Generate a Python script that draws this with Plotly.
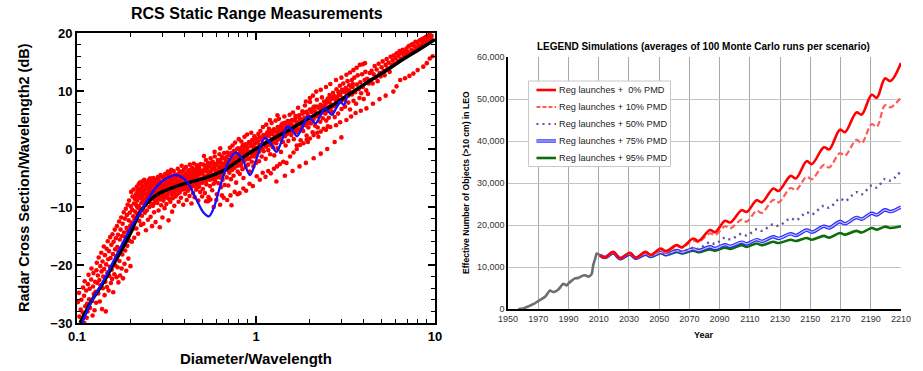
import plotly.graph_objects as go

W, H = 923, 371

# ---------------- Left chart data ----------------
black_x = [0.104, 0.12, 0.14, 0.16, 0.18, 0.20, 0.225, 0.256, 0.29, 0.345, 0.42, 0.53, 0.67,
           0.814, 1.0, 1.36, 1.58, 2.0, 2.69, 3.57, 4.5, 5.5, 6.5, 8.0, 10.0]
black_y = [-30.0, -26.3, -23.1, -19.8, -17.1, -14.4, -10.9, -8.8, -7.6, -6.6, -5.8, -4.9, -3.6,
           -1.8, 0.0, 2.4, 3.5, 5.4, 7.6, 10.1, 12.1, 13.8, 15.3, 17.0, 18.9]

blue_x = [0.107, 0.12, 0.14, 0.16, 0.18, 0.2, 0.225, 0.251, 0.28, 0.31, 0.36, 0.41, 0.466, 0.51,
          0.546, 0.58, 0.63, 0.70, 0.77, 0.84, 0.926, 1.0, 1.12, 1.22, 1.30, 1.40, 1.50, 1.60,
          1.69, 1.82, 1.95, 2.05, 2.15, 2.28, 2.42, 2.55, 2.66, 2.8, 2.96, 3.09, 3.24]
blue_y = [-30.0, -26.4, -22.8, -19.3, -16.2, -13.5, -11.0, -8.5, -6.4, -5.2, -4.5, -5.6, -8.8, -11.0,
          -11.6, -10.2, -6.5, -2.3, -0.6, -1.8, -4.5, -2.0, 1.9, 0.8, -0.5, 1.6, 3.9, 3.2,
          2.2, 3.8, 5.6, 5.0, 4.4, 5.6, 7.0, 6.4, 5.9, 7.0, 8.2, 7.6, 9.3]

rayleigh_pts = [
    (0.1012, -26.4), (0.1031, -28.9), (0.1027, -24.8), (0.1049, -27.7), (0.1063, -29.6), (0.1058, -26.0),
    (0.1081, -23.9), (0.1077, -28.2), (0.1095, -25.3), (0.1112, -27.1), (0.1104, -22.8), (0.1126, -24.4),
    (0.1139, -26.7), (0.1133, -29.1), (0.1151, -23.3), (0.1168, -25.9), (0.1160, -21.7), (0.1182, -27.4),
    (0.1177, -24.1), (0.1199, -22.5), (0.1213, -26.2), (0.1205, -20.6), (0.1228, -23.7), (0.1241, -25.0),
    (0.1236, -21.4), (0.1253, -27.8), (0.1262, -22.9), (0.1270, -24.6), (0.1284, -20.9), (0.1279, -26.5),
    (0.1296, -23.1), (0.1290, -19.6), (0.1099, -30.0), (0.1145, -28.0), (0.1222, -28.7),
    (0.1308, -21.8), (0.1315, -24.9), (0.1322, -18.7), (0.1334, -22.6), (0.1341, -26.3), (0.1350, -20.2),
    (0.1357, -23.5), (0.1366, -17.9), (0.1371, -21.1), (0.1380, -27.6), (0.1389, -19.4), (0.1395, -24.0),
    (0.1402, -22.0), (0.1411, -16.8), (0.1418, -20.7), (0.1426, -25.2), (0.1433, -18.3), (0.1440, -22.9),
    (0.1449, -28.0), (0.1455, -19.9), (0.1463, -17.2), (0.1470, -23.8), (0.1478, -21.3), (0.1486, -15.9),
    (0.1493, -19.0), (0.1501, -24.4), (0.1509, -17.6), (0.1516, -21.9), (0.1525, -20.3), (0.1532, -15.2),
    (0.1540, -18.8), (0.1547, -23.1), (0.1556, -16.5), (0.1563, -20.8), (0.1571, -22.4), (0.1578, -14.7),
    (0.1586, -18.1), (0.1594, -24.7), (0.1601, -16.0), (0.1609, -19.6), (0.1617, -21.6), (0.1625, -13.9),
    (0.1633, -17.3), (0.1641, -20.1), (0.1648, -15.4),
    (0.1656, -18.5), (0.1663, -22.1), (0.1671, -13.3), (0.1679, -16.9), (0.1686, -20.4), (0.1694, -14.8),
    (0.1703, -23.0), (0.1710, -17.7), (0.1718, -12.5), (0.1727, -19.3), (0.1734, -15.6), (0.1742, -21.8),
    (0.1751, -13.9), (0.1759, -17.1), (0.1766, -11.8), (0.1775, -20.6), (0.1783, -15.0), (0.1792, -18.2),
    (0.1799, -12.9), (0.1808, -22.3), (0.1816, -16.3), (0.1825, -10.9), (0.1833, -14.4), (0.1842, -19.8),
    (0.1850, -12.0), (0.1858, -17.5), (0.1867, -15.2), (0.1875, -10.3), (0.1884, -21.0), (0.1893, -13.6),
    (0.1901, -11.4), (0.1909, -16.7), (0.1918, -9.6), (0.1927, -14.1), (0.1936, -18.9), (0.1945, -12.3),
    (0.1953, -8.9), (0.1962, -15.8), (0.1971, -11.0), (0.1980, -13.3), (0.1989, -20.2), (0.1998, -9.9),
    (0.2007, -7.4), (0.2016, -12.7), (0.2025, -16.0), (0.2034, -10.5), (0.2043, -8.2), (0.2052, -13.8),
    (0.2061, -11.6), (0.2070, -7.0), (0.2079, -9.4), (0.2088, -15.3), (0.2097, -12.1), (0.2106, -8.6),
    (0.2115, -10.8),
]

resonance_pts = [
    (0.2124, -11.9), (0.2131, -7.8), (0.2140, -9.6), (0.2148, -13.7), (0.2157, -6.5), (0.2163, -8.9),
    (0.2172, -11.2), (0.2180, -7.3), (0.2187, -10.1), (0.2196, -14.6), (0.2204, -8.2), (0.2211, -6.1),
    (0.2220, -9.9), (0.2228, -12.4), (0.2237, -7.6), (0.2244, -5.8), (0.2253, -10.7), (0.2261, -8.5),
    (0.2270, -6.9), (0.2278, -13.1), (0.2287, -9.3), (0.2295, -7.1), (0.2304, -11.5), (0.2313, -5.6),
    (0.2321, -8.0), (0.2330, -10.3), (0.2339, -6.6), (0.2347, -12.9), (0.2356, -9.0), (0.2365, -7.4),
    (0.2374, -5.3), (0.2383, -8.7), (0.2392, -11.0), (0.2401, -6.3), (0.2410, -9.7), (0.2419, -7.8),
    (0.2428, -14.0), (0.2437, -5.9), (0.2446, -8.3), (0.2455, -10.6), (0.2464, -7.0), (0.2473, -6.0),
    (0.2482, -9.1), (0.2492, -12.2), (0.2501, -7.7), (0.2510, -5.4), (0.2520, -8.8), (0.2529, -6.7),
    (0.2539, -10.0), (0.2548, -7.3), (0.2558, -5.1), (0.2567, -8.4), (0.2577, -11.7), (0.2587, -6.4),
    (0.2596, -9.4), (0.2606, -7.9), (0.2616, -5.7), (0.2626, -13.3), (0.2636, -8.1), (0.2646, -6.2),
    (0.2656, -9.8), (0.2666, -7.2), (0.2676, -5.0), (0.2686, -8.6), (0.2696, -10.9), (0.2706, -6.8),
    (0.2716, -7.6), (0.2727, -9.2), (0.2737, -5.5), (0.2747, -12.6), (0.2758, -7.0), (0.2768, -8.9),
    (0.2779, -6.1),
    (0.2791, -7.5), (0.2802, -5.2), (0.2812, -9.3), (0.2823, -6.6), (0.2834, -4.8), (0.2845, -8.1),
    (0.2856, -10.6), (0.2867, -6.0), (0.2878, -7.8), (0.2889, -5.5), (0.2900, -13.5), (0.2911, -8.7),
    (0.2922, -6.9), (0.2934, -4.5), (0.2945, -7.3), (0.2956, -9.7), (0.2968, -5.9), (0.2979, -8.4),
    (0.2991, -6.4), (0.3002, -11.8), (0.3014, -7.1), (0.3026, -4.9), (0.3037, -8.9), (0.3049, -6.2),
    (0.3061, -5.3), (0.3073, -7.7), (0.3085, -10.2), (0.3097, -6.7), (0.3109, -4.3), (0.3121, -8.3),
    (0.3133, -5.8), (0.3145, -7.0), (0.3157, -9.5), (0.3170, -4.7), (0.3182, -6.5), (0.3194, -8.0),
    (0.3207, -5.6), (0.3219, -3.9), (0.3232, -7.4), (0.3245, -12.3), (0.3257, -6.1), (0.3270, -8.6),
    (0.3283, -5.0), (0.3296, -6.8), (0.3309, -4.1), (0.3322, -9.1), (0.3335, -7.2), (0.3348, -5.4),
    (0.3361, -3.6), (0.3374, -7.9), (0.3388, -6.3), (0.3401, -10.8), (0.3414, -4.6), (0.3428, -8.5),
    (0.3441, -5.7), (0.3455, -6.9), (0.3469, -3.8), (0.3482, -7.6), (0.3496, -9.8), (0.3510, -5.2),
    (0.3524, -6.6), (0.3538, -4.4), (0.3552, -8.2), (0.3566, -5.9), (0.3580, -7.1),
    (0.3603, -4.9), (0.3625, -7.8), (0.3641, -5.6), (0.3659, -3.4), (0.3678, -6.7), (0.3697, -9.1),
    (0.3714, -4.2), (0.3733, -6.0), (0.3751, -7.5), (0.3770, -3.9), (0.3788, -5.3), (0.3807, -8.4),
    (0.3826, -6.4), (0.3845, -2.9), (0.3864, -5.0), (0.3883, -7.0), (0.3903, -4.6), (0.3922, -9.6),
    (0.3942, -5.8), (0.3962, -3.5), (0.3981, -6.9), (0.4001, -4.8), (0.4021, -7.7), (0.4042, -5.5),
    (0.4062, -3.1), (0.4082, -6.2), (0.4103, -8.8), (0.4124, -4.4), (0.4144, -5.9), (0.4165, -7.2),
    (0.4186, -3.7), (0.4208, -6.5), (0.4229, -4.9), (0.4250, -8.1), (0.4272, -2.7), (0.4294, -5.4),
    (0.4316, -6.8), (0.4338, -4.1), (0.4360, -9.4), (0.4382, -5.7), (0.4404, -3.3), (0.4427, -6.1),
    (0.4449, -7.6), (0.4472, -4.5), (0.4495, -2.5), (0.4518, -5.2), (0.4541, -8.3), (0.4564, -6.3),
    (0.4588, -3.8), (0.4611, -4.7), (0.4635, -7.0), (0.4659, -5.5), (0.4683, -2.8), (0.4707, -6.6),
    (0.4731, -4.0), (0.4756, -8.9), (0.4780, -5.1), (0.4805, -3.2), (0.4830, -6.0), (0.4855, -4.3),
    (0.4880, -7.4), (0.4905, -2.6), (0.4931, -5.3), (0.4956, -3.9),
    (0.5012, -4.2), (0.5046, -6.9), (0.5079, -2.7), (0.5113, -5.4), (0.5147, -3.5), (0.5182, -7.6),
    (0.5216, -4.8), (0.5251, -1.9), (0.5286, -6.1), (0.5322, -3.9), (0.5357, -5.0), (0.5393, -2.4),
    (0.5429, -8.3), (0.5466, -4.5), (0.5502, -3.0), (0.5539, -6.4), (0.5577, -1.6), (0.5614, -5.2),
    (0.5652, -3.6), (0.5690, -7.1), (0.5728, -2.2), (0.5766, -4.7), (0.5805, -6.0), (0.5844, -3.3),
    (0.5883, -1.3), (0.5923, -5.6), (0.5963, -4.0), (0.6003, -2.8), (0.6043, -7.8), (0.6084, -4.4),
    (0.6125, -1.9), (0.6166, -5.9), (0.6207, -3.1), (0.6249, -0.9), (0.6291, -4.9), (0.6333, -2.5),
    (0.6376, -6.6), (0.6419, -3.7), (0.6462, -1.4), (0.6505, -5.3), (0.6549, -2.9), (0.6593, -4.2),
    (0.6637, -0.7), (0.6682, -6.2), (0.6727, -3.4), (0.6772, -1.8), (0.5260, -9.0), (0.5560, -8.7),
    (0.6450, -8.0), (0.5120, -1.2), (0.5870, -0.5), (0.6310, 0.1),
]

core_pts = [
    (0.2135, -8.0), (0.2168, -9.9), (0.2192, -6.9), (0.2233, -7.6), (0.2258, -10.4), (0.2291, -6.2),
    (0.2317, -8.6), (0.2352, -7.1), (0.2378, -5.6), (0.2406, -9.2), (0.2441, -6.5), (0.2468, -7.9),
    (0.2497, -5.9), (0.2533, -8.8), (0.2562, -6.8), (0.2591, -5.1), (0.2631, -7.4), (0.2661, -9.5),
    (0.2692, -6.1), (0.2733, -5.7), (0.2764, -8.3), (0.2796, -6.9), (0.2839, -5.0), (0.2872, -7.6),
    (0.2905, -6.3), (0.2949, -8.1), (0.2984, -4.8), (0.3019, -6.7), (0.3066, -7.9), (0.3102, -5.4),
    (0.3139, -6.1), (0.3187, -8.4), (0.3226, -4.6), (0.3264, -7.0), (0.3315, -5.9), (0.3354, -6.8),
    (0.3394, -4.9), (0.3447, -7.6), (0.3488, -5.6), (0.3530, -6.4), (0.3585, -4.7),
    (0.3622, -6.1), (0.3668, -4.4), (0.3705, -5.5), (0.3749, -7.0), (0.3797, -4.8), (0.3836, -5.9),
    (0.3884, -3.9), (0.3926, -6.6), (0.3967, -4.9), (0.4015, -5.7), (0.4066, -4.2), (0.4109, -6.9),
    (0.4153, -5.1), (0.4199, -4.5), (0.4248, -6.1), (0.4293, -3.6), (0.4341, -5.4), (0.4392, -4.8),
    (0.4437, -6.4), (0.4487, -3.9), (0.4538, -5.8), (0.4589, -4.5), (0.4641, -3.3), (0.4693, -5.9),
    (0.4746, -4.4), (0.4799, -6.5), (0.4853, -3.6), (0.4908, -5.1), (0.4963, -4.1), (0.5029, -5.8),
    (0.5087, -3.8), (0.5146, -4.7), (0.5205, -2.9), (0.5265, -5.5), (0.5326, -3.4), (0.5388, -4.6),
    (0.5450, -2.8), (0.5513, -5.3), (0.5576, -3.9), (0.5641, -2.4), (0.5706, -4.5), (0.5772, -3.1),
    (0.5839, -5.2), (0.5906, -2.6), (0.5974, -3.8), (0.6043, -4.9), (0.6113, -2.3), (0.6184, -3.5),
    (0.6255, -4.6), (0.6328, -1.9), (0.6401, -3.3), (0.6475, -2.5), (0.6550, -4.3), (0.6626, -1.6),
    (0.6702, -3.0), (0.6780, -2.2),
    (0.6858, -1.4), (0.6938, -3.6), (0.7018, -2.3), (0.7099, -1.0), (0.7181, -3.1), (0.7264, -0.7),
    (0.7348, -2.5), (0.7433, -1.6), (0.7519, -3.3), (0.7606, -0.4), (0.7694, -2.2), (0.7783, -1.1),
    (0.7873, -2.9), (0.7964, 0.1), (0.8056, -1.5), (0.8149, -0.6), (0.8243, -2.4), (0.8339, 0.3),
    (0.8435, -1.2), (0.8533, -0.2), (0.8631, -2.0), (0.8731, 0.8), (0.8832, -0.9), (0.8934, 0.2),
    (0.9038, -1.7), (0.9142, 1.2), (0.9248, -0.5), (0.9355, 0.5), (0.9463, -1.3), (0.9573, 1.6),
    (0.9684, -0.2), (0.9796, 0.9), (0.9909, -0.8), (1.0024, 1.8), (1.0140, 0.2), (1.0257, 1.3),
    (1.0376, -0.5), (1.0496, 2.0), (1.0617, 0.6), (1.0740, 1.6), (1.0865, 0.0), (1.0990, 2.4),
    (1.1118, 1.0), (1.1246, 2.0), (1.1376, 0.4), (1.1508, 2.7), (1.1641, 1.3), (1.1776, 2.3),
    (1.1912, 0.7), (1.2050, 3.1), (1.2189, 1.7), (1.2330, 2.6), (1.2473, 1.1), (1.2617, 3.4),
    (1.2763, 2.2), (1.2911, 3.0), (1.3060, 1.5), (1.3211, 3.8), (1.3364, 2.6), (1.3519, 3.3),
    (1.3675, 1.9), (1.3833, 4.1), (1.3993, 2.9), (1.4155, 3.7), (1.4319, 2.4), (1.4485, 4.5),
    (1.4652, 3.2), (1.4822, 4.0), (1.4993, 2.7), (1.5167, 4.7), (1.5342, 3.5), (1.5520, 4.3),
    (1.5700, 3.0), (1.5881, 5.0),
    (1.6065, 3.7), (1.6251, 4.9), (1.6439, 3.0), (1.6629, 5.3), (1.6822, 4.2), (1.7016, 4.6),
    (1.7213, 3.4), (1.7412, 5.8), (1.7614, 4.4), (1.7818, 5.0), (1.8024, 3.6), (1.8232, 6.1),
    (1.8443, 4.9), (1.8656, 5.4), (1.8872, 4.1), (1.9091, 6.4), (1.9312, 5.3), (1.9535, 5.7),
    (1.9761, 4.5), (1.9990, 6.8), (2.0221, 5.2), (2.0455, 6.4), (2.0692, 5.1), (2.0931, 7.2),
    (2.1173, 5.7), (2.1418, 6.5), (2.1666, 5.6), (2.1917, 7.3), (2.2170, 6.0), (2.2427, 7.1),
    (2.2686, 5.9), (2.2949, 7.6), (2.3214, 6.8), (2.3483, 7.2), (2.3755, 6.3), (2.4030, 8.2),
    (2.4308, 6.8), (2.4589, 7.9), (2.4873, 6.5), (2.5161, 8.7), (2.5452, 7.2), (2.5746, 8.0),
    (2.6044, 7.1), (2.6346, 9.0), (2.6651, 7.6), (2.6959, 8.8), (2.7271, 7.5), (2.7587, 9.1),
    (2.7906, 8.4), (2.8229, 8.9), (2.8555, 7.9), (2.8886, 9.8), (2.9220, 8.5), (2.9558, 9.3),
    (2.9900, 8.4), (3.0246, 10.2), (3.0596, 8.8), (3.0951, 9.9), (3.1309, 8.6), (3.1671, 10.4),
    (3.2037, 9.6), (3.2408, 10.0), (3.2783, 9.2), (3.3163, 11.0), (3.3546, 9.7), (3.3934, 10.8),
    (3.4327, 9.4), (3.4724, 11.2),
]

optical_pts = [
    (0.6818, -2.6), (0.6864, -4.9), (0.6910, -0.6), (0.6957, -3.4), (0.7003, -6.3), (0.7051, -1.9),
    (0.7098, -4.1), (0.7146, 0.2), (0.7194, -2.8), (0.7242, -5.2), (0.7291, -1.1), (0.7340, -3.6),
    (0.7390, 0.6), (0.7440, -2.1), (0.7490, -4.6), (0.7540, -0.3), (0.7591, -3.2), (0.7642, 1.1),
    (0.7694, -1.5), (0.7746, -5.8), (0.7798, -2.4), (0.7851, 0.0), (0.7904, -3.9), (0.7957, -0.9),
    (0.8011, 1.7), (0.8065, -2.0), (0.8119, -4.3), (0.8174, -0.2), (0.8229, -2.9), (0.8284, 1.3),
    (0.8340, -1.2), (0.8396, -3.5), (0.8453, 0.7), (0.8510, -5.0), (0.8567, -0.7), (0.8625, 2.1),
    (0.8683, -1.8), (0.8742, -3.1), (0.8800, 0.4), (0.8860, -1.0), (0.8919, 2.5), (0.8979, -0.4),
    (0.9040, -2.7), (0.9101, 1.0), (0.9162, -1.6), (0.9224, -3.9), (0.9286, 0.9), (0.9348, -0.5),
    (0.9411, 2.8), (0.9474, -2.2), (0.9538, 1.5), (0.9602, -0.9), (0.9667, -3.0), (0.9732, 0.3),
    (0.9797, 2.2), (0.9863, -1.3), (0.9930, 1.1), (0.9997, -2.4),
    (1.006, -1.0), (1.014, 1.1), (1.023, -0.3), (1.031, 2.6), (1.040, -2.1), (1.049, 0.7),
    (1.058, 3.1), (1.067, 0.0), (1.076, -1.3), (1.085, 1.9), (1.094, 3.8), (1.103, -0.4),
    (1.113, 2.3), (1.122, 0.9), (1.132, -1.7), (1.141, 4.2), (1.151, 1.3), (1.161, 2.9),
    (1.171, -0.2), (1.181, 3.5), (1.191, 0.8), (1.201, -0.9), (1.212, 2.7), (1.222, 4.5),
    (1.232, 1.5), (1.243, 0.3), (1.254, 3.3), (1.265, -1.1), (1.276, 2.1), (1.287, 4.9),
    (1.298, 1.0), (1.309, 3.0), (1.320, 0.1), (1.332, 2.5), (1.343, 5.2), (1.355, 1.7),
    (1.367, 3.7), (1.379, -0.5), (1.391, 2.9), (1.403, 4.4), (1.415, 1.2), (1.427, 3.4),
    (1.439, 5.6), (1.452, 2.2), (1.464, 0.6), (1.477, 4.0), (1.490, 2.6), (1.503, 4.8),
    (1.516, 1.4), (1.529, 3.2), (1.542, 5.9), (1.196, 5.0), (1.318, 5.8),
    (1.557, 4.8), (1.574, 2.4), (1.591, 4.1), (1.609, 6.3), (1.627, 1.7), (1.645, 3.5),
    (1.663, 5.7), (1.681, 2.9), (1.700, 4.5), (1.719, 7.1), (1.738, 3.3), (1.757, 5.3),
    (1.776, 1.5), (1.796, 4.0), (1.816, 6.5), (1.836, 3.1), (1.856, 5.0), (1.876, 7.5),
    (1.897, 4.3), (1.918, 2.3), (1.939, 6.1), (1.960, 3.7), (1.982, 5.5), (2.004, 8.1),
    (2.026, 4.4), (2.048, 6.7), (2.071, 2.9), (2.094, 5.1), (2.117, 7.3), (2.140, 4.0),
    (2.164, 6.0), (2.188, 8.5), (2.212, 3.7), (2.236, 5.7), (2.261, 7.0), (2.286, 4.7),
    (2.311, 6.4), (2.336, 8.9), (2.362, 5.3), (2.388, 3.5), (2.414, 7.5), (2.441, 6.1),
    (2.468, 4.9), (2.495, 8.3), (2.522, 6.8), (2.550, 5.4), (2.578, 9.3), (1.690, 0.6),
    (1.950, 1.2), (2.230, 2.1), (2.520, 3.9),
    (2.606, 7.0), (2.635, 8.6), (2.664, 6.4), (2.694, 9.7), (2.723, 7.4), (2.754, 5.5),
    (2.784, 8.9), (2.815, 10.3), (2.846, 7.7), (2.877, 6.1), (2.909, 9.3), (2.941, 10.9),
    (2.973, 8.1), (3.006, 6.9), (3.039, 9.9), (3.073, 11.3), (3.107, 8.5), (3.141, 7.3),
    (3.175, 10.5), (3.210, 9.1), (3.246, 11.7), (3.281, 8.0), (3.318, 10.1), (3.354, 6.8),
    (3.391, 9.5), (3.429, 11.9), (3.467, 10.7), (3.505, 8.3), (3.543, 12.3), (3.583, 9.8),
    (3.622, 7.8), (3.662, 11.1), (3.702, 12.7), (3.743, 10.3), (3.784, 8.8), (3.826, 11.5),
    (3.868, 9.6), (3.911, 12.9), (3.954, 10.7), (3.998, 8.6), (4.042, 11.9), (4.087, 13.3),
    (4.131, 10.1), (4.177, 12.1), (4.223, 9.5), (4.269, 11.3),
    (4.316, 13.1), (4.372, 11.9), (4.428, 13.5), (4.485, 11.3), (4.543, 12.9), (4.602, 14.3),
    (4.661, 12.3), (4.721, 13.7), (4.782, 11.7), (4.844, 14.7), (4.907, 13.1), (4.970, 12.5),
    (5.034, 14.1), (5.099, 15.1), (5.165, 13.5), (5.232, 12.7), (5.299, 14.5), (5.368, 15.5),
    (5.437, 13.9), (5.508, 14.9), (5.579, 13.3), (5.651, 15.9), (5.724, 14.5), (5.798, 15.3),
    (5.873, 16.1), (5.949, 14.7), (6.026, 15.7), (6.104, 16.5), (6.183, 15.1), (6.263, 16.1),
    (6.344, 16.9), (6.426, 15.5), (6.509, 16.5), (6.593, 17.1), (6.678, 15.9), (6.764, 16.7),
    (6.85, 16.3), (6.93, 17.3), (7.02, 16.7), (7.11, 17.7), (7.20, 16.5), (7.30, 17.9),
    (7.39, 17.1), (7.49, 18.1), (7.58, 16.9), (7.68, 17.7), (7.78, 18.5), (7.88, 17.3),
    (7.98, 18.3), (8.09, 17.7), (8.19, 18.7), (8.30, 17.9), (8.41, 18.9), (8.52, 18.3),
    (8.63, 19.1), (8.74, 18.5), (8.86, 19.3), (8.97, 18.7), (9.09, 19.5), (9.21, 18.9),
    (9.33, 19.7), (9.45, 19.1), (9.57, 19.5),
]

low_stream_pts = [
    (0.50, -8.2), (0.54, -9.0), (0.58, -10.0), (0.60, -8.8), (0.63, -9.6), (0.66, -8.4), (0.69, -8.8),
    (0.72, -8.0), (0.73, -9.7), (0.76, -7.4), (0.79, -7.8), (0.81, -7.6), (0.85, -6.8), (0.88, -7.2),
    (0.92, -6.0), (0.96, -6.4), (1.01, -4.7), (1.05, -5.3), (1.09, -4.1), (1.13, -4.8), (1.17, -3.8),
    (1.21, -4.2), (1.26, -3.4), (1.31, -3.0), (1.36, -2.6), (1.42, -2.2), (1.48, -2.4), (1.55, -1.3),
    (1.62, -0.6), (1.69, 0.0), (1.76, 0.7), (1.84, 1.0), (1.92, 1.6), (2.00, 1.8), (2.10, 2.4),
    (2.20, 2.8), (2.30, 3.0), (2.46, 3.3), (2.60, 3.8), (2.80, 4.1), (2.95, 4.6), (3.20, 5.0),
    (3.40, 5.6), (3.60, 6.2), (3.85, 6.6), (4.14, 7.0), (4.50, 7.8), (4.90, 8.6), (5.30, 9.2),
    (5.85, 9.9), (6.10, 10.8), (6.39, 11.9), (6.80, 12.2), (7.20, 12.6), (7.57, 13.0), (8.00, 13.6),
    (8.60, 14.2), (9.00, 14.8), (9.35, 15.6), (9.70, 16.0),
    (1.30, -5.6), (1.45, -4.6), (1.60, -3.8), (1.75, -3.0), (1.90, -2.4), (2.10, -1.6), (2.30, -0.8),
    (2.50, 0.0), (2.75, 1.2), (3.00, 2.0),
]

high_stream_pts = [
    (1.90, 8.2), (2.00, 8.8), (2.08, 9.2), (2.17, 9.9), (2.30, 10.2), (2.46, 10.7), (2.60, 11.2),
    (2.80, 11.9), (3.00, 12.3), (3.20, 12.8), (3.35, 13.2), (3.50, 13.6), (3.65, 14.0), (3.80, 14.5),
    (3.95, 14.6), (4.06, 14.8),
]

# ---------------- Right chart data ----------------
hist_years = [1956.8, 1960, 1962, 1964.6, 1967, 1970, 1972, 1974.5, 1977.8, 1979.5, 1981, 1983.5,
              1986.6, 1988.8, 1990, 1992, 1994.3, 1996.5, 1999.8, 2001.5, 2003.1, 2005.3, 2006.4,
              2007.6, 2008.7, 2010.9]
hist_vals = [0, 100, 400, 800, 1200, 1900, 2300, 2900, 4400, 4100, 4100, 4700,
             6000, 5600, 6100, 6700, 7300, 7400, 8000, 8000, 7700, 8300, 10500,
             11900, 13200, 12800]

proj_years = [2010.9, 2014.2, 2019.7, 2024.1, 2030.7, 2034.5, 2041.0, 2044.5, 2051.0, 2054.5,
              2061.6, 2065.0, 2072.6, 2076.0, 2083.6, 2087.0, 2093.6, 2097.0, 2104.6, 2108.0,
              2114.5, 2118.0, 2125.5, 2129.0, 2137.0, 2140.5, 2147.6, 2151.0, 2159.0, 2162.5,
              2169.6, 2173.0, 2180.5, 2184.0, 2190.6, 2194.0, 2199.4, 2203.0, 2210.0]
pmd0 = [12800, 12300, 13600, 12100, 13400, 12200, 13600, 12900, 14400, 13800,
        15200, 14700, 16800, 16200, 18800, 18300, 21000, 20600, 23500, 23100,
        25900, 25400, 28700, 28100, 31700, 31100, 35200, 34500, 38500, 38000,
        42700, 42100, 46800, 46300, 51000, 50300, 54900, 54300, 58600]
pmd10 = [12800, 12300, 13500, 12100, 13300, 12200, 13400, 12800, 14000, 13500,
         15000, 14600, 16300, 15900, 18000, 17600, 19700, 19200, 21300, 20800,
         23400, 22900, 26000, 25400, 28800, 28300, 31500, 30900, 34300, 33700,
         37100, 36500, 40300, 39500, 44000, 43400, 48500, 48000, 50400]
pmd50 = [12800, 12300, 13400, 12100, 13200, 12200, 13300, 12700, 13700, 13200,
         14100, 13700, 14600, 14300, 15900, 15500, 17000, 16600, 17900, 17500,
         19000, 18600, 20200, 19800, 21600, 21100, 23000, 22500, 24600, 24100,
         26300, 25700, 27800, 27300, 29400, 28900, 31000, 30600, 32800]
pmd75 = [12800, 12250, 13400, 12000, 13100, 12100, 13100, 12600, 13500, 13000,
         13900, 13500, 14300, 13900, 14800, 14400, 15300, 14900, 15900, 15500,
         16500, 16100, 17200, 16800, 17900, 17500, 18800, 18300, 19700, 19300,
         20800, 20300, 21800, 21400, 22800, 22400, 23600, 23200, 24300]
pmd95 = [12800, 12200, 13300, 11900, 13000, 12000, 12900, 12400, 13300, 12800,
         13600, 13200, 13900, 13500, 14200, 13900, 14600, 14300, 15200, 14800,
         15600, 15200, 16000, 15700, 16500, 16200, 16900, 16500, 17400, 17000,
         18100, 17700, 18600, 18200, 19300, 18900, 19600, 19300, 19700]

legend_labels = ["Reg launches +  0% PMD", "Reg launches + 10% PMD", "Reg launches + 50% PMD",
                 "Reg launches + 75% PMD", "Reg launches + 95% PMD"]

# ---------------- Figure ----------------
def fx(px):
    return px / W


def fy(py):
    return 1 - py / H


fig = go.Figure()

all_pts = rayleigh_pts + resonance_pts + core_pts + optical_pts + low_stream_pts + high_stream_pts
fig.add_trace(go.Scatter(x=[p[0] for p in all_pts], y=[p[1] for p in all_pts], mode="markers",
                         marker=dict(color="#ff0000", size=4.6, line=dict(width=0)),
                         xaxis="x", yaxis="y", showlegend=False, hoverinfo="skip"))
fig.add_trace(go.Scatter(x=black_x, y=black_y, mode="lines", line=dict(color="black", width=3.5, shape="spline"),
                         xaxis="x", yaxis="y", showlegend=False))
fig.add_trace(go.Scatter(x=blue_x, y=blue_y, mode="lines",
                         line=dict(color="#1010ff", width=2.3, shape="spline", smoothing=1.0),
                         xaxis="x", yaxis="y", showlegend=False))

RED, RED2, PURP, BLUE, BLUE_IN, GREEN, GRAY = ("#ff0000", "#ff5a5a", "#6a4ea0", "#2a2aff",
                                              "#c4c4ff", "#0b6e0b", "#6e6e6e")


def proj(vals, color, width, dash="solid"):
    fig.add_trace(go.Scatter(x=proj_years, y=vals, mode="lines",
                             line=dict(color=color, width=width, dash=dash, shape="spline", smoothing=1.0),
                             xaxis="x2", yaxis="y2", showlegend=False))


proj(pmd95, GREEN, 2.6)
proj(pmd75, BLUE, 3.6)
proj(pmd75, BLUE_IN, 1.2)
proj(pmd50, PURP, 2.4, "2px,4px")
proj(pmd10, RED2, 2.2, "6px,3px")
proj(pmd0, RED, 2.6)
fig.add_trace(go.Scatter(x=hist_years, y=hist_vals, mode="lines",
                         line=dict(color=GRAY, width=2.6, shape="spline", smoothing=0.6),
                         xaxis="x2", yaxis="y2", showlegend=False))

bold = dict(family="Liberation Sans, Arial, sans-serif", color="black", weight="bold")
small = dict(family="Liberation Sans, Arial, sans-serif", size=9, color="#333333")

fig.update_layout(
    width=W, height=H, autosize=False,
    margin=dict(l=0, r=0, t=0, b=0, pad=0, autoexpand=False),
    paper_bgcolor="white", plot_bgcolor="white",
    xaxis=dict(domain=[fx(77), fx(435)], type="log", range=[-1, 1], automargin=False,
               tickvals=[0.1, 1, 10], ticktext=["0.1", "1", "10"],
               showline=True, linecolor="black", linewidth=2, mirror="allticks",
               ticks="inside", ticklen=7, tickwidth=1.5, tickcolor="black",
               minor=dict(ticks="inside", ticklen=4, tickwidth=1, tickcolor="black",
                          tickvals=[0.2, 0.3, 0.4, 0.5, 0.6, 0.7, 0.8, 0.9, 2, 3, 4, 5, 6, 7, 8, 9]),
               showgrid=False, zeroline=False,
               tickfont=dict(size=13, **bold), anchor="y"),
    yaxis=dict(domain=[fy(323), fy(33)], range=[-30, 20], dtick=10, automargin=False,
               showline=True, linecolor="black", linewidth=2, mirror="allticks",
               ticks="inside", ticklen=7, tickwidth=1.5, tickcolor="black",
               minor=dict(ticks="inside", ticklen=4, tickwidth=1, tickcolor="black", dtick=2),
               showgrid=False, zeroline=False,
               tickfont=dict(size=13, **bold), anchor="x"),
    xaxis2=dict(domain=[fx(508), fx(901)], range=[1950, 2210], automargin=False,
                tickvals=list(range(1950, 2211, 20)),
                showgrid=True, gridcolor="#a8a8a8", gridwidth=1,
                showline=True, linecolor="black", linewidth=1.5,
                ticks="", zeroline=False, tickfont=small, anchor="y2"),
    yaxis2=dict(domain=[fy(309), fy(57)], range=[0, 60000], dtick=10000, tickformat=",", automargin=False,
                showgrid=True, gridcolor="#c4c4c4", gridwidth=1,
                showline=True, linecolor="black", linewidth=1.5,
                ticks="", zeroline=False, tickfont=small, anchor="x2"),
)

ann = []
ann.append(dict(text="<b>RCS Static Range Measurements</b>", x=fx(257), y=fy(14), xref="paper", yref="paper",
                showarrow=False, font=dict(family="Liberation Sans, Arial", size=16, color="black"),
                xanchor="center", yanchor="middle"))
ann.append(dict(text="<b>Radar Cross Section/Wavelength2 (dB)</b>", x=fx(24), y=fy(178), xref="paper",
                yref="paper", textangle=-90, showarrow=False,
                font=dict(family="Liberation Sans, Arial", size=14.5, color="black"),
                xanchor="center", yanchor="middle"))
ann.append(dict(text="<b>Diameter/Wavelength</b>", x=fx(256), y=fy(358), xref="paper", yref="paper",
                showarrow=False, font=dict(family="Liberation Sans, Arial", size=15, color="black"),
                xanchor="center", yanchor="middle"))
ann.append(dict(text="<b>LEGEND Simulations (averages of 100 Monte Carlo runs per scenario)</b>",
                x=fx(703), y=fy(47), xref="paper", yref="paper", showarrow=False,
                font=dict(family="Liberation Sans, Arial", size=10, color="black"),
                xanchor="center", yanchor="middle"))
ann.append(dict(text="<b>Effective Number of Objects (>10 cm) in LEO</b>", x=fx(466), y=fy(183),
                xref="paper", yref="paper", textangle=-90, showarrow=False,
                font=dict(family="Liberation Sans, Arial", size=8.6, color="black"),
                xanchor="center", yanchor="middle"))
ann.append(dict(text="<b>Year</b>", x=fx(704), y=fy(335), xref="paper", yref="paper", showarrow=False,
                font=dict(family="Liberation Sans, Arial", size=9, color="black"),
                xanchor="center", yanchor="middle"))

shapes = [dict(type="rect", xref="paper", yref="paper", x0=fx(528.5), x1=fx(670.5), y0=fy(166.5), y1=fy(81),
               line=dict(color="#c8c8c8", width=1), fillcolor="white", layer="above")]
leg_y = [90, 107, 124, 141, 158]
leg_styles = [(RED, 2.6, "solid"), (RED2, 2.2, "4px,2px"), (PURP, 2.2, "2px,4px"), (BLUE, 3.4, "solid"),
              (GREEN, 2.6, "solid")]
for ly, lab, (c, w, d) in zip(leg_y, legend_labels, leg_styles):
    shapes.append(dict(type="line", xref="paper", yref="paper", x0=fx(536.5), x1=fx(556), y0=fy(ly), y1=fy(ly),
                       line=dict(color=c, width=w, dash=d), layer="above"))
    ann.append(dict(text=lab, x=fx(557), y=fy(ly), xref="paper", yref="paper", showarrow=False,
                    font=dict(family="Liberation Sans, Arial", size=9.2, color="#222222"),
                    xanchor="left", yanchor="middle"))
shapes.append(dict(type="line", xref="paper", yref="paper", x0=fx(536.5), x1=fx(556), y0=fy(141), y1=fy(141),
                   line=dict(color=BLUE_IN, width=1.2), layer="above"))

fig.update_layout(annotations=ann, shapes=shapes)
fig.write_html("out.html", config={"responsive": False, "displayModeBar": False},
               post_script="document.body.style.margin='0px';document.body.style.overflow='hidden';")
